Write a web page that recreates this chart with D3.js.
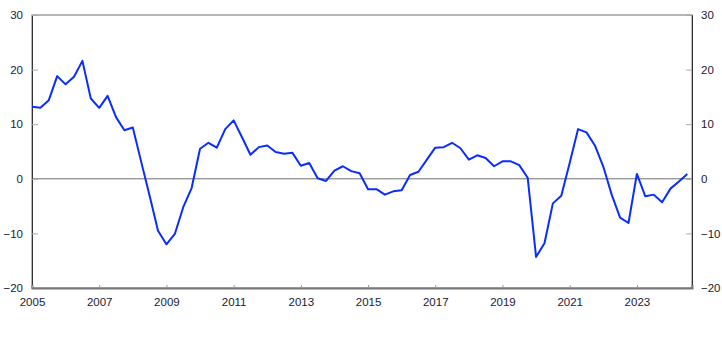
<!DOCTYPE html>
<html>
<head>
<meta charset="utf-8">
<script src="https://cdn.jsdelivr.net/npm/d3@7"></script>
<style>
  body { margin: 0; background: #fff; }
  text { font-family: "Liberation Sans", Arial, sans-serif; font-size: 12px; fill: #1a1a33; }
</style>
</head>
<body>
<div id="chart-area"></div>
<script>
// quarterly values, 2005Q1 .. 2024Q3
var startYear = 2005;
var values = [
  13.2, 13.0, 14.4, 18.8,
  17.3, 18.7, 21.6, 14.7,
  13.0, 15.2, 11.3, 8.9,
  9.4, 3.1, -3.1, -9.5,
  -12.0, -10.1, -5.2, -1.7,
  5.5, 6.6, 5.7, 9.1,
  10.7, 7.6, 4.4, 5.8,
  6.1, 4.9, 4.6, 4.75,
  2.4, 2.9, 0.1, -0.4,
  1.5, 2.3, 1.4, 1.0,
  -1.9, -1.9, -2.9, -2.3,
  -2.1, 0.7, 1.3, 3.5,
  5.7, 5.8, 6.6, 5.6,
  3.5, 4.3, 3.8, 2.3,
  3.2, 3.2, 2.5, 0.2,
  -14.3, -11.8, -4.5, -3.1,
  2.9, 9.1, 8.5, 6.1,
  2.25, -2.9, -7.1, -8.1,
  0.9, -3.2, -2.9, -4.3,
  -1.8, -0.5, 0.9
];
var xTicks = [2005, 2007, 2009, 2011, 2013, 2015, 2017, 2019, 2021, 2023];
var yTicks = [-20, -10, 0, 10, 20, 30];

var data = values.map((v, i) => ({ t: startYear + i / 4, v: v }));

var width = 722, height = 361;
var margin = { left: 32, right: 30, top: 15, bottom: 73 };
var xEnd = 2024.64;

var svg = d3.select("#chart-area")
  .append("svg")
  .attr("width", width)
  .attr("height", height);

var x = d3.scaleLinear()
  .domain([startYear, xEnd])
  .range([margin.left, width - margin.right]);

var y = d3.scaleLinear()
  .domain([-20, 30])
  .range([height - margin.bottom, margin.top]);

// frame
svg.append("rect")
  .attr("x", x(startYear))
  .attr("y", y(30))
  .attr("width", x(xEnd) - x(startYear))
  .attr("height", y(-20) - y(30))
  .attr("fill", "none")
  .attr("stroke", "#6e6e6e")
  .attr("stroke-width", 1);

// zero line
svg.append("line")
  .attr("x1", x(startYear)).attr("x2", x(xEnd))
  .attr("y1", y(0)).attr("y2", y(0))
  .attr("stroke", "#707070");

// left axis
var yLeft = svg.append("g")
  .attr("transform", `translate(${x(startYear)},0)`)
  .call(d3.axisLeft(y).tickValues(yTicks).tickSize(-6).tickPadding(9));
yLeft.select(".domain").attr("stroke", "#333");
yLeft.selectAll(".tick line").attr("stroke", "#aaa");

// right axis
var yRight = svg.append("g")
  .attr("transform", `translate(${x(xEnd)},0)`)
  .call(d3.axisRight(y).tickValues(yTicks).tickSize(-6).tickPadding(9));
yRight.select(".domain").attr("stroke", "#333");
yRight.selectAll(".tick line").attr("stroke", "#aaa");

// bottom axis
var xAxis = svg.append("g")
  .attr("transform", `translate(0,${y(-20)})`)
  .call(d3.axisBottom(x).tickValues(xTicks).tickFormat(d3.format("d")).tickSize(-3).tickPadding(10));
xAxis.select(".domain").attr("stroke", "#777").attr("stroke-width", 2);
xAxis.selectAll(".tick line").attr("stroke", "#999");

svg.selectAll(".tick text")
  .style("font-family", "'Liberation Sans', Arial, sans-serif")
  .style("font-size", "11.5px")
  .attr("fill", "#1a1a33");

var line = d3.line()
  .x(d => x(d.t))
  .y(d => y(d.v));

svg.append("path")
  .datum(data)
  .attr("fill", "none")
  .attr("stroke", "#0a2dff")
  .attr("stroke-width", 2)
  .attr("stroke-linejoin", "round")
  .attr("d", line);
</script>
</body>
</html>
